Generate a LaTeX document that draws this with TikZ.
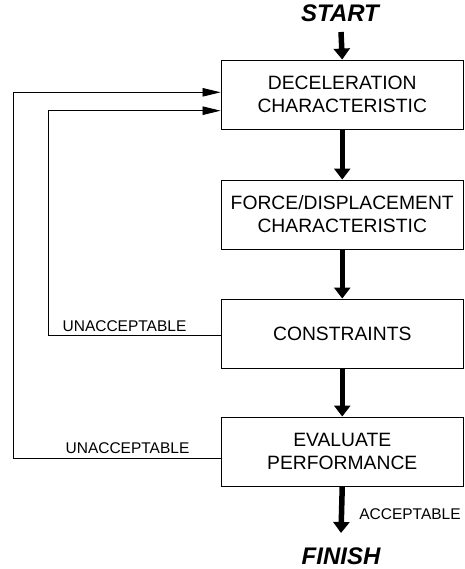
\documentclass[tikz,border=0pt]{standalone}
\usepackage{fontspec}
\setmainfont{Liberation Sans}
\usetikzlibrary{arrows.meta}

\begin{document}
\begin{tikzpicture}[x=1pt,y=-1pt,
    stage/.style={draw,line width=0.9pt,minimum width=242.5pt,minimum height=69pt,
      align=center,inner sep=0pt,font=\fontsize{19.3}{23}\selectfont},
    bigarrow/.style={line width=5.5pt,-{Triangle[length=11pt,width=16pt]}},
    loopline/.style={line width=0.8pt,-{Triangle[length=18pt,width=8.5pt]}},
    note/.style={anchor=base,inner sep=0pt,font=\fontsize{15.5}{18}\selectfont},
    ends/.style={anchor=base,inner sep=0pt,font=\fontsize{24}{28}\selectfont\bfseries\itshape}]
  \useasboundingbox (0,0) rectangle (464,569);
  % start and finish
  \node[ends] (start) at (340,22) {START};
  \node[ends] (finish) at (341,564.5) {FINISH};
  \coordinate (starttop) at (341,32);
  \coordinate (endtip) at (341,533);
  % the four stages
  \node[stage] (decel) at (342.25,94.5) {DECELERATION\\CHARACTERISTIC};
  \node[stage] (force) at (342.25,214.5) {FORCE/DISPLACEMENT\\CHARACTERISTIC};
  \node[stage] (constr) at (342.25,333.5) {CONSTRAINTS};
  \node[stage] (eval) at (342.25,451.5) {EVALUATE\\PERFORMANCE};
  % main flow
  \draw[bigarrow] (starttop) -- (decel.north);
  \draw[bigarrow] (decel.south) -- (force.north);
  \draw[bigarrow] (force.south) -- (constr.north);
  \draw[bigarrow] (constr.south) -- (eval.north);
  \draw[bigarrow] (eval.south) -- (endtip);
  % feedback loops
  \draw[loopline] ([yshift=-1.5pt]constr.west) -| (48,110.7) -- ([yshift=-16.2pt]decel.west);
  \draw[loopline] ([yshift=-6.5pt]eval.west) -| (13,92.3) -- ([yshift=2.2pt]decel.west);
  \node[note] (inner) at (124.5,331.7) {UNACCEPTABLE};
  \node[note] (outer) at (127.5,453.3) {UNACCEPTABLE};
  \node[note] (accept) at (410,519.3) {ACCEPTABLE};
\end{tikzpicture}
\end{document}
